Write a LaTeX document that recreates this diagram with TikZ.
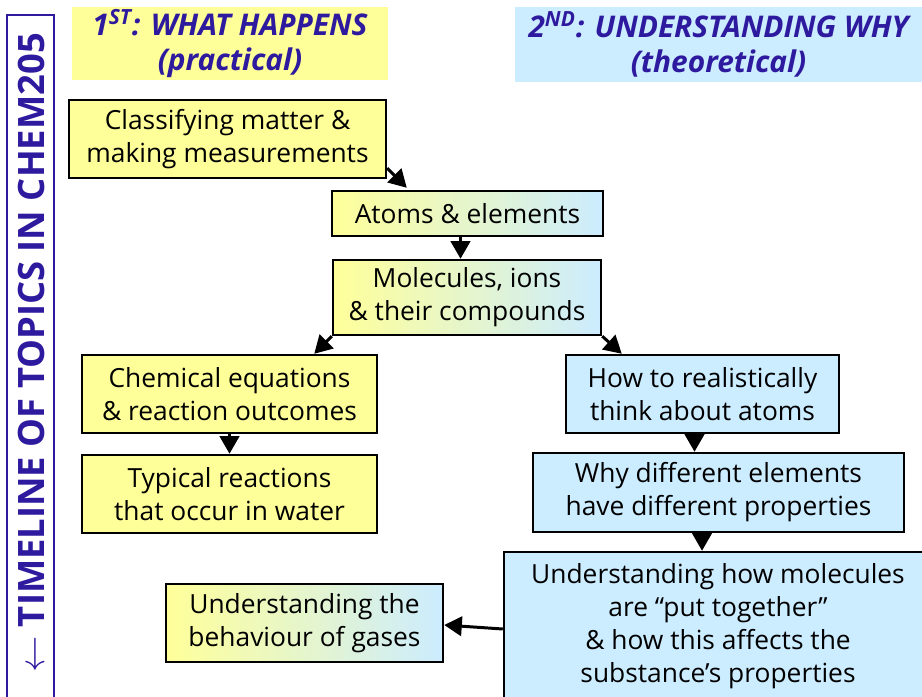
\documentclass[tikz,border=0pt]{standalone}
\usepackage{fontspec}
\setmainfont{Open Sans}
\usetikzlibrary{arrows.meta,calc}
\definecolor{paleyellow}{HTML}{FFFF99}
\definecolor{paleblue}{HTML}{CCECFF}
\definecolor{inkblue}{HTML}{2E1A9E}
\newdimen\px \px=0.02cm
\tikzset{
  boxsize/.style 2 args={minimum width=#1*\px, minimum height=#2*\px},
  topic/.style={draw=black, line width=1.4pt, align=center, inner sep=0pt,
    font=\fontsize{15}{18.8}\selectfont},
  practical/.style={topic, fill=paleyellow},
  theory/.style={topic, fill=paleblue},
  bridge/.style={topic, left color=paleyellow, right color=paleblue},
  heading/.style={align=center, inner sep=0pt, text=inkblue,
    font=\fontsize{17}{19.5}\selectfont\bfseries\itshape},
  flow/.style={line width=1.7pt, -{Triangle[length=10pt,width=11pt]}},
}
\begin{document}
\begin{tikzpicture}[x=0.02cm, y=-0.02cm]
  \useasboundingbox (0,0) rectangle (922,696);
  \clip (0,0) rectangle (922,696);
  % column headings
  \node[heading, fill=paleyellow, boxsize={316}{73}] (practicalhead) at (230,43.5)
    {1\textsuperscript{ST}: WHAT HAPPENS\\(practical)};
  \node[heading, fill=paleblue, boxsize={407}{75}] (theoryhead) at (718.5,44.5)
    {2\textsuperscript{ND}: UNDERSTANDING WHY\\(theoretical)};
  % timeline bar
  \draw[inkblue, line width=1.7pt] (7,15) rectangle (54,710);
  \node[rotate=90, text=inkblue, inner sep=0pt, font=\fontsize{20.7}{20.7}\selectfont\bfseries]
    (timeline) at (31,353) {$\leftarrow$ TIMELINE OF TOPICS IN CHEM205};
  % topics
  \node[practical, boxsize={317}{78}] (classify) at (227.5,139)
    {Classifying matter \&\\making measurements};
  \node[bridge, boxsize={271}{45}] (atoms) at (467.5,213.5) {Atoms \& elements};
  \node[bridge, boxsize={268}{75}] (molecules) at (467,297.5)
    {Molecules, ions\\\& their compounds};
  \node[practical, boxsize={295}{78}] (equations) at (229.5,394)
    {Chemical equations\\\& reaction outcomes};
  \node[practical, boxsize={295}{78}] (water) at (229.5,494)
    {Typical reactions\\that occur in water};
  \node[theory, boxsize={273}{78}] (realistic) at (702.5,394)
    {How to realistically\\think about atoms};
  \node[theory, boxsize={371}{79}] (elements) at (718.5,492.5)
    {Why different elements\\have different properties};
  \node[theory, boxsize={428}{148}] (bonding) at (718,626)
    {Understanding how molecules\\are “put together”\\\& how this affects the\\substance’s properties};
  \node[bridge, boxsize={277}{78}] (gases) at (304.5,623)
    {Understanding the\\behaviour of gases};
  % connectors
  \draw[flow] ($(classify.south east)+(0,-11)$) -- ($(atoms.north west)+(76,-2)$);
  \draw[flow] ([xshift=-0.14cm]atoms.south) -- ([xshift=-0.14cm]atoms.south |- molecules.north);
  \draw[flow] (molecules.south west) -- ($(equations.north east)+(-64,0)$);
  \draw[flow] (molecules.south east) -- ($(realistic.north west)+(57,0)$);
  \draw[flow] (equations.south) -- (equations.south |- water.north);
  \draw[flow] ([xshift=-0.16cm]realistic.south) -- ([xshift=-0.16cm]realistic.south |- elements.north);
  \draw[flow] ([xshift=-0.33cm]elements.south) -- ([xshift=-0.33cm]elements.south |- bonding.north);
  \draw[flow] ($(bonding.west)+(0,3)$) -- ($(gases.east)+(0,2)$);
\end{tikzpicture}
\end{document}
